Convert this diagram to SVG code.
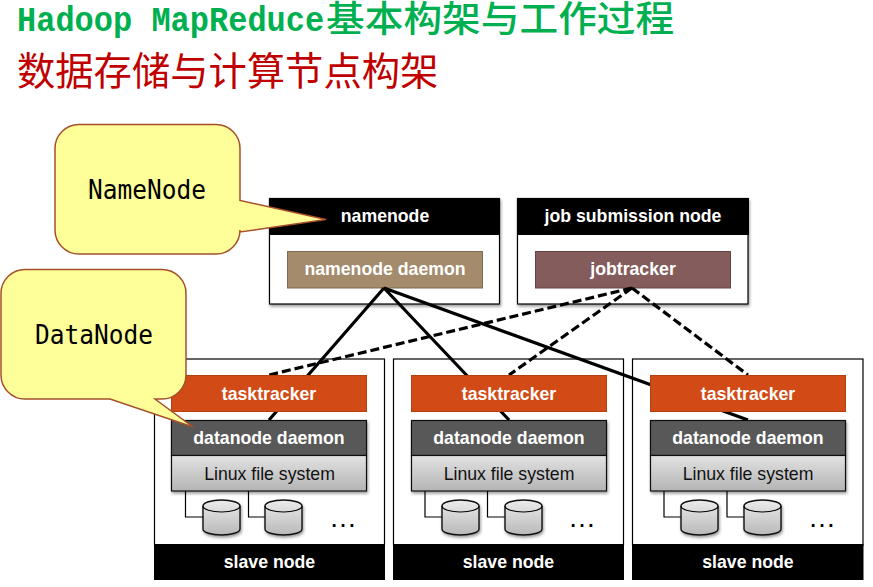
<svg xmlns="http://www.w3.org/2000/svg" width="873" height="587" viewBox="0 0 873 587">
<style>
text{font-family:"Liberation Sans",Arial,sans-serif;text-anchor:middle}
.w{fill:#fff;font-weight:700;font-size:17.7px}
.k{fill:#111;font-size:17.7px}
.box{fill:#fff;stroke:#000;stroke-width:1.2}
.bar{fill:#000}
.tt{fill:#d24a16;stroke:#b5400f;stroke-width:1}
.dn{fill:#595959;stroke:#111;stroke-width:1.2}
.fs{fill:url(#fsg);stroke:#111;stroke-width:1.2}
.cyl{fill:url(#cg);stroke:#111;stroke-width:1.4}
.wire{fill:none;stroke:#000;stroke-width:1.2}
.co{stroke:#000;stroke-width:3.2;fill:none}
.da{stroke-dasharray:9 4}
.call{fill:#ffff99;stroke:#a5502a;stroke-width:1.5}
.ct{font-family:"DejaVu Sans Mono","Liberation Mono",monospace;font-size:24.500px;fill:#000}
.cjk{font-family:"Noto Sans CJK SC",sans-serif;text-anchor:start}
</style>
<defs>
<linearGradient id="fsg" x1="0" y1="0" x2="0" y2="1"><stop offset="0" stop-color="#e2e2e2"/><stop offset="1" stop-color="#b4b4b4"/></linearGradient>
<linearGradient id="cg" x1="0" y1="0" x2="0" y2="1"><stop offset="0" stop-color="#ececec"/><stop offset="1" stop-color="#b8b8b8"/></linearGradient>
<filter id="sh" x="-10%" y="-10%" width="120%" height="125%"><feDropShadow dx="1" dy="2" stdDeviation="1.5" flood-color="#000" flood-opacity=".4"/></filter>
</defs>
<rect width="873" height="587" fill="#fff"/>
<g id="title">
<text transform="translate(17 31) scale(1 1.12)" style="font-family:'Liberation Mono',monospace;text-anchor:start;font-weight:700;font-size:32px" fill="#00b050">Hadoop MapReduce</text>
<text class="cjk" transform="translate(326 32) scale(1 .93)" font-size="38.700" font-weight="500" fill="#00b050">基本构架与工作过程</text>
<text class="cjk" x="17" y="85" font-size="38.300" fill="#c00000">数据存储与计算节点构架</text>
</g>
<g id="namenode">
<rect class="box" x="269.5" y="198.5" width="230" height="105.500" filter="url(#sh)"/>
<rect class="bar" x="269" y="198" width="231" height="37"/>
<text class="w" x="385" y="222">namenode</text>
<rect x="287.500" y="251.500" width="195" height="36.500" fill="#a38b6b" stroke="#7d6a50"/>
<text class="w" x="385" y="275">namenode daemon</text>
</g>
<g id="job-submission-node">
<rect class="box" x="517.500" y="198.500" width="230.500" height="105.500" filter="url(#sh)"/>
<rect class="bar" x="517" y="198" width="232" height="37"/>
<text class="w" x="633" y="222">job submission node</text>
<rect x="535.500" y="251.500" width="195" height="36.500" fill="#855c5c" stroke="#684545"/>
<text class="w" x="633" y="275">jobtracker</text>
</g>
<g id="connectors">
<path class="co" d="M384 288L269 420M384 288L509 420M384 288L748 420"/>
<path class="co da" d="M632 288L269 375M632 288L509 375M632 288L748 375"/>
</g>
<g id="slave-1">
<rect class="box" style="fill:none" x="154.500" y="359" width="230" height="186"/>
<rect class="bar" x="154" y="544" width="231" height="36"/>
<text class="w" x="269.500" y="568">slave node</text>
<rect class="tt" x="171.500" y="375.500" width="195" height="36"/>
<text class="w" x="269" y="400">tasktracker</text>
<g filter="url(#sh)"><rect class="dn" x="171.500" y="420.500" width="195" height="35"/>
<rect class="fs" x="171.500" y="455.500" width="195" height="35.500"/></g>
<text class="w" x="269" y="444">datanode daemon</text>
<text class="k" x="269.500" y="480">Linux file system</text>
<path class="wire" d="M185.500 491V517H203M248.500 491V517H265"/>
<path class="cyl" filter="url(#sh)" d="M203 506a18.500 6 0 0 1 37 0v23a18.500 6 0 0 1-37 0z"/><path class="wire" d="M203 506a18.500 6 0 0 0 37 0"/>
<path class="cyl" filter="url(#sh)" d="M265 506a18.500 6 0 0 1 37 0v23a18.500 6 0 0 1-37 0z"/><path class="wire" d="M265 506a18.500 6 0 0 0 37 0"/>
<text x="343" y="527" font-size="28" fill="#000">…</text>
</g>
<g id="slave-2">
<rect class="box" style="fill:none" x="393.500" y="359" width="230" height="186"/>
<rect class="bar" x="393" y="544" width="231" height="36"/>
<text class="w" x="508.500" y="568">slave node</text>
<rect class="tt" x="411.500" y="375.500" width="195" height="36"/>
<text class="w" x="509" y="400">tasktracker</text>
<g filter="url(#sh)"><rect class="dn" x="411.500" y="420.500" width="195" height="35"/>
<rect class="fs" x="411.500" y="455.500" width="195" height="35.500"/></g>
<text class="w" x="509" y="444">datanode daemon</text>
<text class="k" x="509" y="480">Linux file system</text>
<path class="wire" d="M425 491V517H442M487.500 491V517H505"/>
<path class="cyl" filter="url(#sh)" d="M442 506a18.500 6 0 0 1 37 0v23a18.500 6 0 0 1-37 0z"/><path class="wire" d="M442 506a18.500 6 0 0 0 37 0"/>
<path class="cyl" filter="url(#sh)" d="M505 506a18.500 6 0 0 1 37 0v23a18.500 6 0 0 1-37 0z"/><path class="wire" d="M505 506a18.500 6 0 0 0 37 0"/>
<text x="582" y="527" font-size="28" fill="#000">…</text>
</g>
<g id="slave-3">
<rect class="box" style="fill:none" x="632.500" y="359" width="230.500" height="186"/>
<rect class="bar" x="632" y="544" width="231.500" height="36"/>
<text class="w" x="748" y="568">slave node</text>
<rect class="tt" x="650.500" y="375.500" width="195" height="36"/>
<text class="w" x="748" y="400">tasktracker</text>
<g filter="url(#sh)"><rect class="dn" x="650.500" y="420.500" width="195" height="35"/>
<rect class="fs" x="650.500" y="455.500" width="195" height="35.500"/></g>
<text class="w" x="748" y="444">datanode daemon</text>
<text class="k" x="748" y="480">Linux file system</text>
<path class="wire" d="M664 491V517H681M727 491V517H744"/>
<path class="cyl" filter="url(#sh)" d="M681 506a18.500 6 0 0 1 37 0v23a18.500 6 0 0 1-37 0z"/><path class="wire" d="M681 506a18.500 6 0 0 0 37 0"/>
<path class="cyl" filter="url(#sh)" d="M744 506a18.500 6 0 0 1 37 0v23a18.500 6 0 0 1-37 0z"/><path class="wire" d="M744 506a18.500 6 0 0 0 37 0"/>
<text x="822" y="527" font-size="28" fill="#000">…</text>
</g>
<g id="callout-namenode">
<path class="call" d="M79 124.500H216a24 24 0 0 1 24 24V200.500L326 219.500L240 232V230a24 24 0 0 1-24 24H79a24 24 0 0 1-24-24V148.500a24 24 0 0 1 24-24z"/>
<text class="ct" transform="translate(147 199) scale(1 1.1)">NameNode</text>
</g>
<g id="callout-datanode">
<path class="call" d="M25 269.500H162a24 24 0 0 1 24 24V375a24 24 0 0 1-24 24H155L193 427L110 399H25a24 24 0 0 1-24-24V293.500a24 24 0 0 1 24-24z"/>
<text class="ct" transform="translate(94 344) scale(1 1.1)">DataNode</text>
</g>
</svg>
